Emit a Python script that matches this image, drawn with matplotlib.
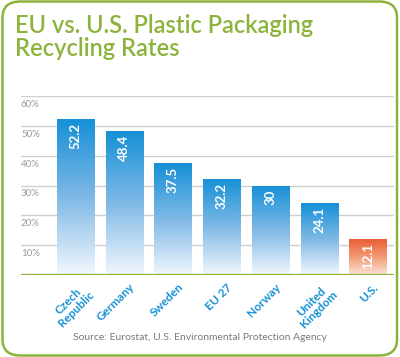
import numpy as np
import matplotlib.pyplot as plt
from matplotlib.patches import FancyBboxPatch
from matplotlib.colors import LinearSegmentedColormap

countries = ['Czech\nRepublic', 'Germany', 'Sweden', 'EU 27', 'Norway', 'United\nKingdom', 'U.S.']
rates = [52.2, 48.4, 37.5, 32.2, 30, 24.1, 12.1]
labels = ['52.2', '48.4', '37.5', '32.2', '30', '24.1', '12.1']
yticks = [10, 20, 30, 40, 50, 60]

green = '#8cb43c'
blue = '#1590d6'
plt.rcParams['font.family'] = ['Lato', 'DejaVu Sans']

fig = plt.figure(figsize=(4, 3.57), dpi=100)
W, H = 400, 357

# rounded frame
frame = FancyBboxPatch((2.5/W, 1.5/H), 394.5/W, 354/H, boxstyle='round,pad=0,rounding_size=0.045',
                       transform=fig.transFigure, fc='none', ec=green, lw=1.8, zorder=-1)
fig.patches.append(frame)

fig.text(15/W, 1 - 33/H, 'EU vs. U.S. Plastic Packaging', color=green, fontsize=17,
         fontweight='semibold', ha='left', va='baseline')
fig.text(15/W, 1 - 56/H, 'Recycling Rates', color=green, fontsize=17,
         fontweight='semibold', ha='left', va='baseline')

ax = fig.add_axes((21/W, 82/H, 373/W, 179/H))
ax.axis('off')

for t in yticks:
    ax.axhline(t, color='#cfcfcf', lw=1.0, zorder=1)
    ax.text(-1.118, t - 1.3, f'{t}%', color='#9a9a9a', fontsize=7, ha='left', va='top')
ax.axhline(0, color=green, lw=1.6, zorder=5)

x = np.arange(len(rates))
bars = ax.bar(x, rates, width=0.76, color='none', zorder=2)
cm_blue = LinearSegmentedColormap.from_list('b', ['#f2f7fd', '#7fb9e6', blue])
cm_red = LinearSegmentedColormap.from_list('r', ['#fbe3d6', '#f29a74', '#e85a30'])
grad = np.linspace(0, 1, 256).reshape(-1, 1)
for i, b in enumerate(bars):
    cm = cm_red if i == len(bars) - 1 else cm_blue
    x0, w, h = b.get_x(), b.get_width(), b.get_height()
    im = ax.imshow(grad, cmap=cm, aspect='auto', origin='lower',
                   extent=(x0, x0 + w, 0, h), zorder=3)
    im.set_clip_path(b)
    ax.text(x[i], rates[i] - 1.3, labels[i], rotation=90, color='white', fontsize=9.5,
            fontweight='bold', ha='center', va='top', zorder=4)
    ax.text(x[i] + 0.1, -2.2, countries[i], rotation=45, rotation_mode='anchor',
            color=blue, fontsize=8.5, fontweight='bold', ha='right', va='top',
            multialignment='center', linespacing=0.95)

ax.set_xlim(-1.118, 6.533)
ax.set_ylim(0, 60)

fig.text(200/W, 1 - 337/H, 'Source: Eurostat, U.S. Environmental Protection Agency',
         color='#7a7a7a', fontsize=7.5, ha='center', va='center')

fig.savefig('out.png', dpi=100)
